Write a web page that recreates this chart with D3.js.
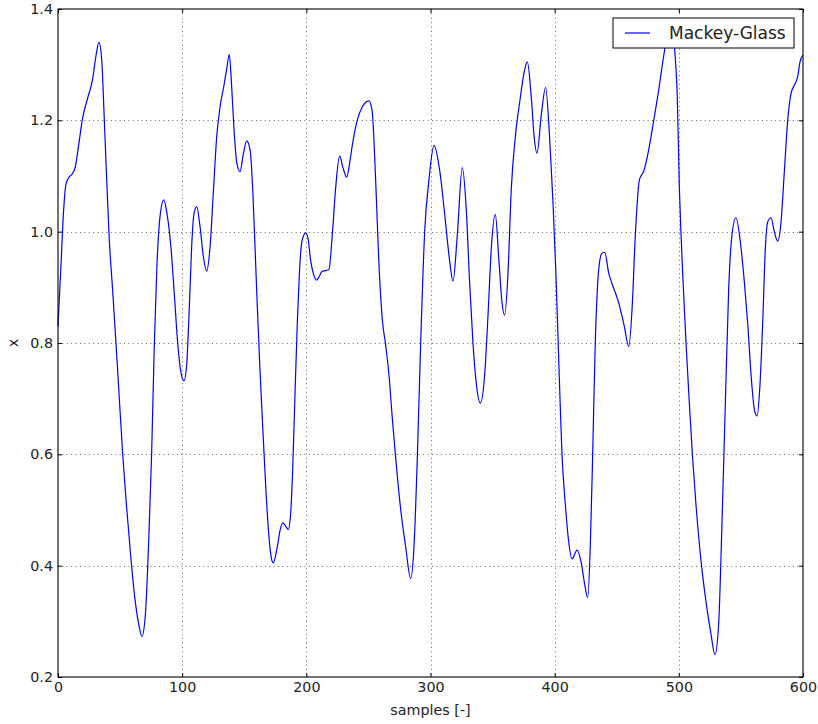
<!DOCTYPE html>
<html>
<head>
<meta charset="utf-8">
<script src="https://cdn.jsdelivr.net/npm/d3@7"></script>
<style>
  body { margin: 0; background: #fff; }
  svg { display: block; font-family: 'DejaVu Sans', sans-serif; }
</style>
</head>
<body>
<div id="app"></div>
<script>
// sample index (x) and Mackey-Glass value (y)
const samples = [
  0, 2.4, 4.3, 6.4, 8.6, 11.8, 14, 16.6, 19.9, 23.9, 27.9, 30.6, 33, 35.2, 37.3, 39.2,
  41.3, 44, 46.7, 49.4, 52.1, 55.3, 58.8, 62, 65, 67.6, 70.3, 73, 75.4, 77.6, 79.7,
  82.4, 85.2, 87.8, 91, 93.7, 96.4, 99.1, 101.5, 103.6, 105.8, 107.6, 109.5, 111.7,
  114.4, 117.1, 119.7, 122.4, 125.1, 127.8, 130.5, 133.7, 135.9, 138, 139.8, 141.7,
  143.9, 146.6, 149.3, 152, 154.6, 156.8, 158.7, 160.5, 162.7, 165.4, 167.5, 169.7,
  172.1, 173.4, 176.3, 179, 181, 183.6, 185.5, 187.4, 189, 190.9, 192.8, 194.4, 196.5,
  199.5, 201.5, 203.5, 206, 208.3, 210.5, 212.8, 215.5, 218.2, 220.9, 223.6, 226.8,
  229.5, 232.5, 235, 237, 241, 245, 250.4, 253, 255.8, 258.5, 261.2, 263.9, 266.6,
  269.2, 271.9, 275.9, 280, 284, 286.7, 289.4, 292.1, 295.3, 298.8, 302.8, 307.4,
  311.4, 315.4, 318.1, 321.6, 325.6, 328.8, 331.5, 334.2, 336.9, 340.1, 343.6, 346.3,
  349, 352.2, 354.9, 357.5, 359.7, 362.4, 365.1, 368.3, 371.8, 375.3, 378, 381.2,
  383.5, 385.8, 389.2, 392.7, 395.9, 398.6, 401, 403.8, 405.9, 408.6, 411.3, 414, 418,
  421.5, 424.2, 426.6, 428.8, 430.6, 432.7, 435.4, 437.8, 440.3, 443.6, 446.3, 451.6,
  455.7, 459.7, 462.4, 465.1, 468.3, 471.8, 475.8, 479.8, 483.9, 487.9, 490.5, 493,
  495.5, 497.5, 498.7, 500.4, 501.7, 503.1, 505.8, 508.5, 511.1, 513.8, 517.8, 521.9,
  525.9, 529.1, 532.1, 534.8, 537.5, 540.2, 542.8, 546, 549.3, 552.8, 555.5, 558.2,
  560.9, 563, 565.4, 567.5, 569.7, 571.5, 574.2, 576.9, 579.6, 582.3, 585, 587.7,
  590.3, 593, 595.7, 597.6, 600
];
const values = [
  0.83, 0.94, 1.03, 1.085, 1.097, 1.105, 1.117, 1.155, 1.205, 1.24, 1.274, 1.316, 1.34, 1.309, 1.2, 1.094,
  0.986, 0.895, 0.8, 0.7, 0.6, 0.504, 0.411, 0.34, 0.295, 0.273, 0.31, 0.44, 0.6, 0.8, 0.94,
  1.032, 1.057, 1.032, 0.971, 0.887, 0.8, 0.746, 0.732, 0.76, 0.866, 0.971, 1.032, 1.045,
  1.009, 0.955, 0.929, 0.971, 1.07, 1.17, 1.224, 1.263, 1.293, 1.318, 1.263, 1.186,
  1.125, 1.108, 1.14, 1.163, 1.148, 1.078, 0.971, 0.866, 0.75, 0.626, 0.534, 0.457,
  0.411, 0.405, 0.43, 0.465, 0.477, 0.47, 0.465, 0.495, 0.572, 0.71, 0.84, 0.925, 0.983,
  0.998, 0.986, 0.948, 0.922, 0.913, 0.92, 0.929, 0.93, 0.932, 0.994, 1.078, 1.136,
  1.115, 1.098, 1.125, 1.155, 1.2, 1.224, 1.235, 1.217, 1.094, 0.94, 0.842, 0.796, 0.742,
  0.666, 0.595, 0.503, 0.434, 0.377, 0.434, 0.595, 0.8, 1.0, 1.094, 1.155, 1.11,
  1.032, 0.948, 0.911, 0.994, 1.115, 1.04, 0.909, 0.8, 0.727, 0.692, 0.742, 0.849,
  0.971, 1.031, 0.955, 0.875, 0.85, 0.925, 1.078, 1.17, 1.232, 1.285, 1.305, 1.24,
  1.17, 1.141, 1.209, 1.259, 1.17, 1.055, 0.925, 0.734, 0.6, 0.51, 0.443, 0.412, 0.428,
  0.404, 0.366, 0.343, 0.443, 0.6, 0.8, 0.93, 0.96, 0.963, 0.925, 0.906, 0.872,
  0.834, 0.794, 0.864, 1.0, 1.094, 1.109, 1.148, 1.2, 1.256, 1.317, 1.35, 1.365,
  1.35, 1.3, 1.247, 1.08, 1.0, 0.925, 0.8, 0.69, 0.594, 0.51, 0.41, 0.335,
  0.277, 0.24, 0.297, 0.48, 0.695, 0.9, 0.994, 1.025, 0.986, 0.909, 0.834, 0.742,
  0.68, 0.669, 0.727, 0.834, 0.971, 1.017, 1.025, 1.0, 0.983, 1.017, 1.109, 1.2,
  1.248, 1.263, 1.278, 1.305, 1.317
];
const xTicks = [0, 100, 200, 300, 400, 500, 600];
const yTicks = [0.2, 0.4, 0.6, 0.8, 1.0, 1.2, 1.4];
const seriesName = 'Mackey-Glass';

const svgWidth = 818;
const svgHeight = 724;
const margin = { top: 9, right: 15, bottom: 47, left: 58 };
const tickFont = 14.3;

const svg = d3.select('#app')
  .append('svg')
  .attr('width', svgWidth)
  .attr('height', svgHeight);

const xScale = d3.scaleLinear()
  .domain([0, 600])
  .range([margin.left, svgWidth - margin.right]);

const yScale = d3.scaleLinear()
  .domain([0.2, 1.4])
  .range([svgHeight - margin.bottom, margin.top]);

// grid (dotted, matplotlib classic)
const grid = svg.append('g').attr('class', 'grid')
  .attr('stroke', '#000')
  .attr('stroke-width', 0.6)
  .attr('stroke-dasharray', '1,3.4');

grid.selectAll('.gx')
  .data(xTicks.slice(1, -1))
  .enter()
  .append('line')
  .attr('x1', d => Math.round(xScale(d)) + 0.5)
  .attr('x2', d => Math.round(xScale(d)) + 0.5)
  .attr('y1', yScale(1.4))
  .attr('y2', yScale(0.2));

grid.selectAll('.gy')
  .data(yTicks.slice(1, -1))
  .enter()
  .append('line')
  .attr('y1', d => Math.round(yScale(d)) + 0.5)
  .attr('y2', d => Math.round(yScale(d)) + 0.5)
  .attr('x1', xScale(0))
  .attr('x2', xScale(600));

// the series
const line = d3.line()
  .x(i => xScale(samples[i]))
  .y(i => yScale(values[i]))
  .curve(d3.curveMonotoneX);

svg.append('path')
  .attr('d', line(d3.range(samples.length)))
  .attr('fill', 'none')
  .attr('stroke', '#0000ff')
  .attr('stroke-width', 1.2);

// Axes, ticks pointing inward on all four sides
const xAxis = d3.axisBottom(xScale).tickValues(xTicks).tickFormat(d3.format('d'))
  .tickSizeInner(-4).tickSizeOuter(0).tickPadding(5);
const yAxis = d3.axisLeft(yScale).tickValues(yTicks).tickFormat(d3.format('.1f'))
  .tickSizeInner(-4).tickSizeOuter(0).tickPadding(5);
const xTop = d3.axisTop(xScale).tickValues(xTicks).tickFormat('').tickSizeInner(-4).tickSizeOuter(0);
const yRight = d3.axisRight(yScale).tickValues(yTicks).tickFormat('').tickSizeInner(-4).tickSizeOuter(0);

const styleAxis = g => {
  g.select('.domain').remove();
  g.selectAll('line').attr('stroke', '#000');
  g.selectAll('text')
    .attr('fill', '#222')
    .style('font-family', "'DejaVu Sans', sans-serif")
    .style('font-size', tickFont + 'px');
};

svg.append('g')
  .attr('transform', `translate(0, ${svgHeight - margin.bottom})`)
  .call(xAxis)
  .call(styleAxis);

svg.append('g')
  .attr('transform', `translate(${margin.left}, 0)`)
  .call(yAxis)
  .call(styleAxis);

svg.append('g')
  .attr('transform', `translate(0, ${margin.top})`)
  .call(xTop)
  .call(styleAxis);

svg.append('g')
  .attr('transform', `translate(${svgWidth - margin.right}, 0)`)
  .call(yRight)
  .call(styleAxis);

// frame
svg.append('rect')
  .attr('x', margin.left)
  .attr('y', margin.top)
  .attr('width', svgWidth - margin.left - margin.right)
  .attr('height', svgHeight - margin.top - margin.bottom)
  .attr('fill', 'none')
  .attr('stroke', '#000')
  .attr('stroke-width', 1.1);

// axis labels
svg.append('text')
  .attr('x', (xScale(0) + xScale(600)) / 2)
  .attr('y', 715)
  .attr('text-anchor', 'middle')
  .style('font-size', tickFont + 'px')
  .attr('fill', '#222')
  .text('samples [-]');

svg.append('text')
  .attr('transform', `translate(18, ${(yScale(0.2) + yScale(1.4)) / 2}) rotate(-90)`)
  .attr('text-anchor', 'middle')
  .style('font-size', tickFont + 'px')
  .attr('fill', '#222')
  .text('x');

// Legend
const legend = svg.append('g').attr('transform', 'translate(613, 18)');
legend.append('rect')
  .attr('width', 181)
  .attr('height', 30)
  .attr('fill', '#fff')
  .attr('stroke', '#000')
  .attr('stroke-width', 1);
legend.append('line')
  .attr('x1', 12).attr('x2', 37)
  .attr('y1', 15).attr('y2', 15)
  .attr('stroke', '#0000ff')
  .attr('stroke-width', 1.2);
legend.append('text')
  .attr('x', 56)
  .attr('y', 21)
  .style('font-size', '17px')
  .attr('fill', '#222')
  .text(seriesName);
</script>
</body>
</html>
